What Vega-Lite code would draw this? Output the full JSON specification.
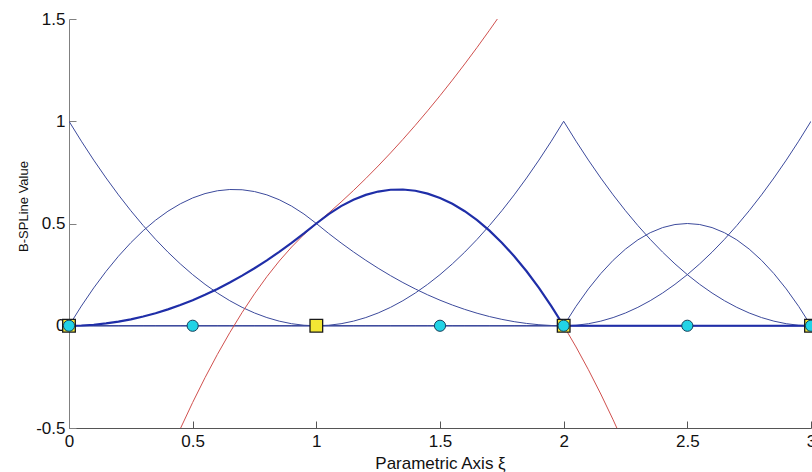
{
  "$schema": "https://vega.github.io/schema/vega-lite/v6.json",
  "width": 742,
  "height": 409,
  "autosize": {"type": "none"},
  "padding": {"left": 69, "top": 19, "right": 1, "bottom": 44},
  "background": "white",
  "config": {
    "view": {"stroke": null},
    "font": "Liberation Sans",
    "axis": {
      "grid": false,
      "labelFont": "Liberation Sans",
      "labelFontSize": 17,
      "labelColor": "#111111",
      "titleFont": "Liberation Sans",
      "titleFontWeight": "normal",
      "titleColor": "#111111",
      "tickSize": -7,
      "tickWidth": 1,
      "domainWidth": 1,
      "labelExpr": "'' + datum.value"
    }
  },
  "datasets": {
    "basis": [
      {"x": 0, "n0": 1, "n1": 0, "n2": 0, "n3": 0, "n4": 0, "n5": 0},
      {"x": 0.05, "n0": 0.9025, "n1": 0.09625, "n2": 0.00125, "n3": 0, "n4": 0, "n5": 0},
      {"x": 0.1, "n0": 0.81, "n1": 0.185, "n2": 0.005, "n3": 0, "n4": 0, "n5": 0},
      {"x": 0.15, "n0": 0.7225, "n1": 0.26625, "n2": 0.01125, "n3": 0, "n4": 0, "n5": 0},
      {"x": 0.2, "n0": 0.64, "n1": 0.34, "n2": 0.02, "n3": 0, "n4": 0, "n5": 0},
      {"x": 0.25, "n0": 0.5625, "n1": 0.40625, "n2": 0.03125, "n3": 0, "n4": 0, "n5": 0},
      {"x": 0.3, "n0": 0.49, "n1": 0.465, "n2": 0.045, "n3": 0, "n4": 0, "n5": 0},
      {"x": 0.35, "n0": 0.4225, "n1": 0.51625, "n2": 0.06125, "n3": 0, "n4": 0, "n5": 0},
      {"x": 0.4, "n0": 0.36, "n1": 0.56, "n2": 0.08, "n3": 0, "n4": 0, "n5": 0},
      {"x": 0.45, "n0": 0.3025, "n1": 0.59625, "n2": 0.10125, "n3": 0, "n4": 0, "n5": 0},
      {"x": 0.5, "n0": 0.25, "n1": 0.625, "n2": 0.125, "n3": 0, "n4": 0, "n5": 0},
      {"x": 0.55, "n0": 0.2025, "n1": 0.64625, "n2": 0.15125, "n3": 0, "n4": 0, "n5": 0},
      {"x": 0.6, "n0": 0.16, "n1": 0.66, "n2": 0.18, "n3": 0, "n4": 0, "n5": 0},
      {"x": 0.65, "n0": 0.1225, "n1": 0.66625, "n2": 0.21125, "n3": 0, "n4": 0, "n5": 0},
      {"x": 0.7, "n0": 0.09, "n1": 0.665, "n2": 0.245, "n3": 0, "n4": 0, "n5": 0},
      {"x": 0.75, "n0": 0.0625, "n1": 0.65625, "n2": 0.28125, "n3": 0, "n4": 0, "n5": 0},
      {"x": 0.8, "n0": 0.04, "n1": 0.64, "n2": 0.32, "n3": 0, "n4": 0, "n5": 0},
      {"x": 0.85, "n0": 0.0225, "n1": 0.61625, "n2": 0.36125, "n3": 0, "n4": 0, "n5": 0},
      {"x": 0.9, "n0": 0.01, "n1": 0.585, "n2": 0.405, "n3": 0, "n4": 0, "n5": 0},
      {"x": 0.95, "n0": 0.0025, "n1": 0.54625, "n2": 0.45125, "n3": 0, "n4": 0, "n5": 0},
      {"x": 1, "n0": 0, "n1": 0.5, "n2": 0.5, "n3": 0, "n4": 0, "n5": 0},
      {"x": 1.05, "n0": 0, "n1": 0.45125, "n2": 0.54625, "n3": 0.0025, "n4": 0, "n5": 0},
      {"x": 1.1, "n0": 0, "n1": 0.405, "n2": 0.585, "n3": 0.01, "n4": 0, "n5": 0},
      {"x": 1.15, "n0": 0, "n1": 0.36125, "n2": 0.61625, "n3": 0.0225, "n4": 0, "n5": 0},
      {"x": 1.2, "n0": 0, "n1": 0.32, "n2": 0.64, "n3": 0.04, "n4": 0, "n5": 0},
      {"x": 1.25, "n0": 0, "n1": 0.28125, "n2": 0.65625, "n3": 0.0625, "n4": 0, "n5": 0},
      {"x": 1.3, "n0": 0, "n1": 0.245, "n2": 0.665, "n3": 0.09, "n4": 0, "n5": 0},
      {"x": 1.35, "n0": 0, "n1": 0.21125, "n2": 0.66625, "n3": 0.1225, "n4": 0, "n5": 0},
      {"x": 1.4, "n0": 0, "n1": 0.18, "n2": 0.66, "n3": 0.16, "n4": 0, "n5": 0},
      {"x": 1.45, "n0": 0, "n1": 0.15125, "n2": 0.64625, "n3": 0.2025, "n4": 0, "n5": 0},
      {"x": 1.5, "n0": 0, "n1": 0.125, "n2": 0.625, "n3": 0.25, "n4": 0, "n5": 0},
      {"x": 1.55, "n0": 0, "n1": 0.10125, "n2": 0.59625, "n3": 0.3025, "n4": 0, "n5": 0},
      {"x": 1.6, "n0": 0, "n1": 0.08, "n2": 0.56, "n3": 0.36, "n4": 0, "n5": 0},
      {"x": 1.65, "n0": 0, "n1": 0.06125, "n2": 0.51625, "n3": 0.4225, "n4": 0, "n5": 0},
      {"x": 1.7, "n0": 0, "n1": 0.045, "n2": 0.465, "n3": 0.49, "n4": 0, "n5": 0},
      {"x": 1.75, "n0": 0, "n1": 0.03125, "n2": 0.40625, "n3": 0.5625, "n4": 0, "n5": 0},
      {"x": 1.8, "n0": 0, "n1": 0.02, "n2": 0.34, "n3": 0.64, "n4": 0, "n5": 0},
      {"x": 1.85, "n0": 0, "n1": 0.01125, "n2": 0.26625, "n3": 0.7225, "n4": 0, "n5": 0},
      {"x": 1.9, "n0": 0, "n1": 0.005, "n2": 0.185, "n3": 0.81, "n4": 0, "n5": 0},
      {"x": 1.95, "n0": 0, "n1": 0.00125, "n2": 0.09625, "n3": 0.9025, "n4": 0, "n5": 0},
      {"x": 2, "n0": 0, "n1": 0, "n2": 0, "n3": 1, "n4": 0, "n5": 0},
      {"x": 2.05, "n0": 0, "n1": 0, "n2": 0, "n3": 0.9025, "n4": 0.095, "n5": 0.0025},
      {"x": 2.1, "n0": 0, "n1": 0, "n2": 0, "n3": 0.81, "n4": 0.18, "n5": 0.01},
      {"x": 2.15, "n0": 0, "n1": 0, "n2": 0, "n3": 0.7225, "n4": 0.255, "n5": 0.0225},
      {"x": 2.2, "n0": 0, "n1": 0, "n2": 0, "n3": 0.64, "n4": 0.32, "n5": 0.04},
      {"x": 2.25, "n0": 0, "n1": 0, "n2": 0, "n3": 0.5625, "n4": 0.375, "n5": 0.0625},
      {"x": 2.3, "n0": 0, "n1": 0, "n2": 0, "n3": 0.49, "n4": 0.42, "n5": 0.09},
      {"x": 2.35, "n0": 0, "n1": 0, "n2": 0, "n3": 0.4225, "n4": 0.455, "n5": 0.1225},
      {"x": 2.4, "n0": 0, "n1": 0, "n2": 0, "n3": 0.36, "n4": 0.48, "n5": 0.16},
      {"x": 2.45, "n0": 0, "n1": 0, "n2": 0, "n3": 0.3025, "n4": 0.495, "n5": 0.2025},
      {"x": 2.5, "n0": 0, "n1": 0, "n2": 0, "n3": 0.25, "n4": 0.5, "n5": 0.25},
      {"x": 2.55, "n0": 0, "n1": 0, "n2": 0, "n3": 0.2025, "n4": 0.495, "n5": 0.3025},
      {"x": 2.6, "n0": 0, "n1": 0, "n2": 0, "n3": 0.16, "n4": 0.48, "n5": 0.36},
      {"x": 2.65, "n0": 0, "n1": 0, "n2": 0, "n3": 0.1225, "n4": 0.455, "n5": 0.4225},
      {"x": 2.7, "n0": 0, "n1": 0, "n2": 0, "n3": 0.09, "n4": 0.42, "n5": 0.49},
      {"x": 2.75, "n0": 0, "n1": 0, "n2": 0, "n3": 0.0625, "n4": 0.375, "n5": 0.5625},
      {"x": 2.8, "n0": 0, "n1": 0, "n2": 0, "n3": 0.04, "n4": 0.32, "n5": 0.64},
      {"x": 2.85, "n0": 0, "n1": 0, "n2": 0, "n3": 0.0225, "n4": 0.255, "n5": 0.7225},
      {"x": 2.9, "n0": 0, "n1": 0, "n2": 0, "n3": 0.01, "n4": 0.18, "n5": 0.81},
      {"x": 2.95, "n0": 0, "n1": 0, "n2": 0, "n3": 0.0025, "n4": 0.095, "n5": 0.9025},
      {"x": 3, "n0": 0, "n1": 0, "n2": 0, "n3": 0, "n4": 0, "n5": 1}
    ],
    "pieces": [
      {"seg": "a", "x": 0.4, "y": -0.64},
      {"seg": "a", "x": 0.45, "y": -0.50375},
      {"seg": "a", "x": 0.5, "y": -0.375},
      {"seg": "a", "x": 0.55, "y": -0.25375},
      {"seg": "a", "x": 0.6, "y": -0.14},
      {"seg": "a", "x": 0.65, "y": -0.03375},
      {"seg": "a", "x": 0.7, "y": 0.065},
      {"seg": "a", "x": 0.75, "y": 0.15625},
      {"seg": "a", "x": 0.8, "y": 0.24},
      {"seg": "a", "x": 0.85, "y": 0.31625},
      {"seg": "a", "x": 0.9, "y": 0.385},
      {"seg": "a", "x": 0.95, "y": 0.44625},
      {"seg": "a", "x": 1, "y": 0.5},
      {"seg": "b", "x": 2, "y": 0},
      {"seg": "b", "x": 2.05, "y": -0.10375},
      {"seg": "b", "x": 2.1, "y": -0.215},
      {"seg": "b", "x": 2.15, "y": -0.33375},
      {"seg": "b", "x": 2.2, "y": -0.46},
      {"seg": "b", "x": 2.25, "y": -0.59375},
      {"seg": "c", "x": 1, "y": 0.5},
      {"seg": "c", "x": 1.05, "y": 0.55125},
      {"seg": "c", "x": 1.1, "y": 0.605},
      {"seg": "c", "x": 1.15, "y": 0.66125},
      {"seg": "c", "x": 1.2, "y": 0.72},
      {"seg": "c", "x": 1.25, "y": 0.78125},
      {"seg": "c", "x": 1.3, "y": 0.845},
      {"seg": "c", "x": 1.35, "y": 0.91125},
      {"seg": "c", "x": 1.4, "y": 0.98},
      {"seg": "c", "x": 1.45, "y": 1.05125},
      {"seg": "c", "x": 1.5, "y": 1.125},
      {"seg": "c", "x": 1.55, "y": 1.20125},
      {"seg": "c", "x": 1.6, "y": 1.28},
      {"seg": "c", "x": 1.65, "y": 1.36125},
      {"seg": "c", "x": 1.7, "y": 1.445},
      {"seg": "c", "x": 1.75, "y": 1.53125},
      {"seg": "c", "x": 1.8, "y": 1.62}
    ],
    "knots": [
      {"x": 0, "y": 0}, {"x": 1, "y": 0}, {"x": 2, "y": 0}, {"x": 3, "y": 0}
    ],
    "greville": [
      {"x": 0, "y": 0}, {"x": 0.5, "y": 0}, {"x": 1.5, "y": 0},
      {"x": 2, "y": 0}, {"x": 2.5, "y": 0}, {"x": 3, "y": 0}
    ]
  },
  "encoding": {
    "x": {
      "field": "x",
      "type": "quantitative",
      "scale": {"domain": [0, 3], "nice": false, "zero": false},
      "axis": {
        "values": [0, 0.5, 1, 1.5, 2, 2.5, 3],
        "title": "Parametric Axis ξ",
        "titleFontSize": 17,
        "titleBaseline": "alphabetic",
        "titleY": 40,
        "labelPadding": 12,
        "labelFlush": false,
        "domainColor": "#555555",
        "tickColor": "#555555"
      }
    },
    "y": {
      "field": "y",
      "type": "quantitative",
      "scale": {"domain": [-0.5, 1.5], "nice": false, "zero": false},
      "axis": {
        "values": [-0.5, 0, 0.5, 1, 1.5],
        "title": "B-SPLine Value",
        "titleFontSize": 13,
        "titleBaseline": "alphabetic",
        "titleAngle": 270,
        "titleX": -42,
        "titleY": 187,
        "titleAlign": "center",
        "labelPadding": 11,
        "labelFlush": false,
        "domainColor": "#808080",
        "tickColor": "#808080"
      }
    }
  },
  "layer": [
    {
      "data": {"name": "basis"},
      "transform": [
        {"fold": ["n0", "n1", "n3", "n4", "n5"], "as": ["fn", "y"]}
      ],
      "mark": {"type": "line", "clip": true, "color": "#3c4a9c", "strokeWidth": 1},
      "encoding": {"detail": {"field": "fn"}}
    },
    {
      "data": {"name": "pieces"},
      "mark": {"type": "line", "clip": true, "color": "#d0504e", "strokeWidth": 1},
      "encoding": {"detail": {"field": "seg"}}
    },
    {
      "data": {"name": "basis"},
      "mark": {"type": "line", "clip": true, "color": "#1f2ea8", "strokeWidth": 2.2},
      "encoding": {"y": {"field": "n2", "type": "quantitative"}}
    },
    {
      "data": {"name": "knots"},
      "mark": {"type": "point", "shape": "square", "filled": true, "fill": "#f2e634", "stroke": "#1a1a1a", "strokeWidth": 1.3, "size": 160, "opacity": 1}
    },
    {
      "data": {"name": "greville"},
      "mark": {"type": "point", "shape": "circle", "filled": true, "fill": "#22d3e6", "stroke": "#16405a", "strokeWidth": 1, "size": 125, "opacity": 1}
    }
  ]
}
